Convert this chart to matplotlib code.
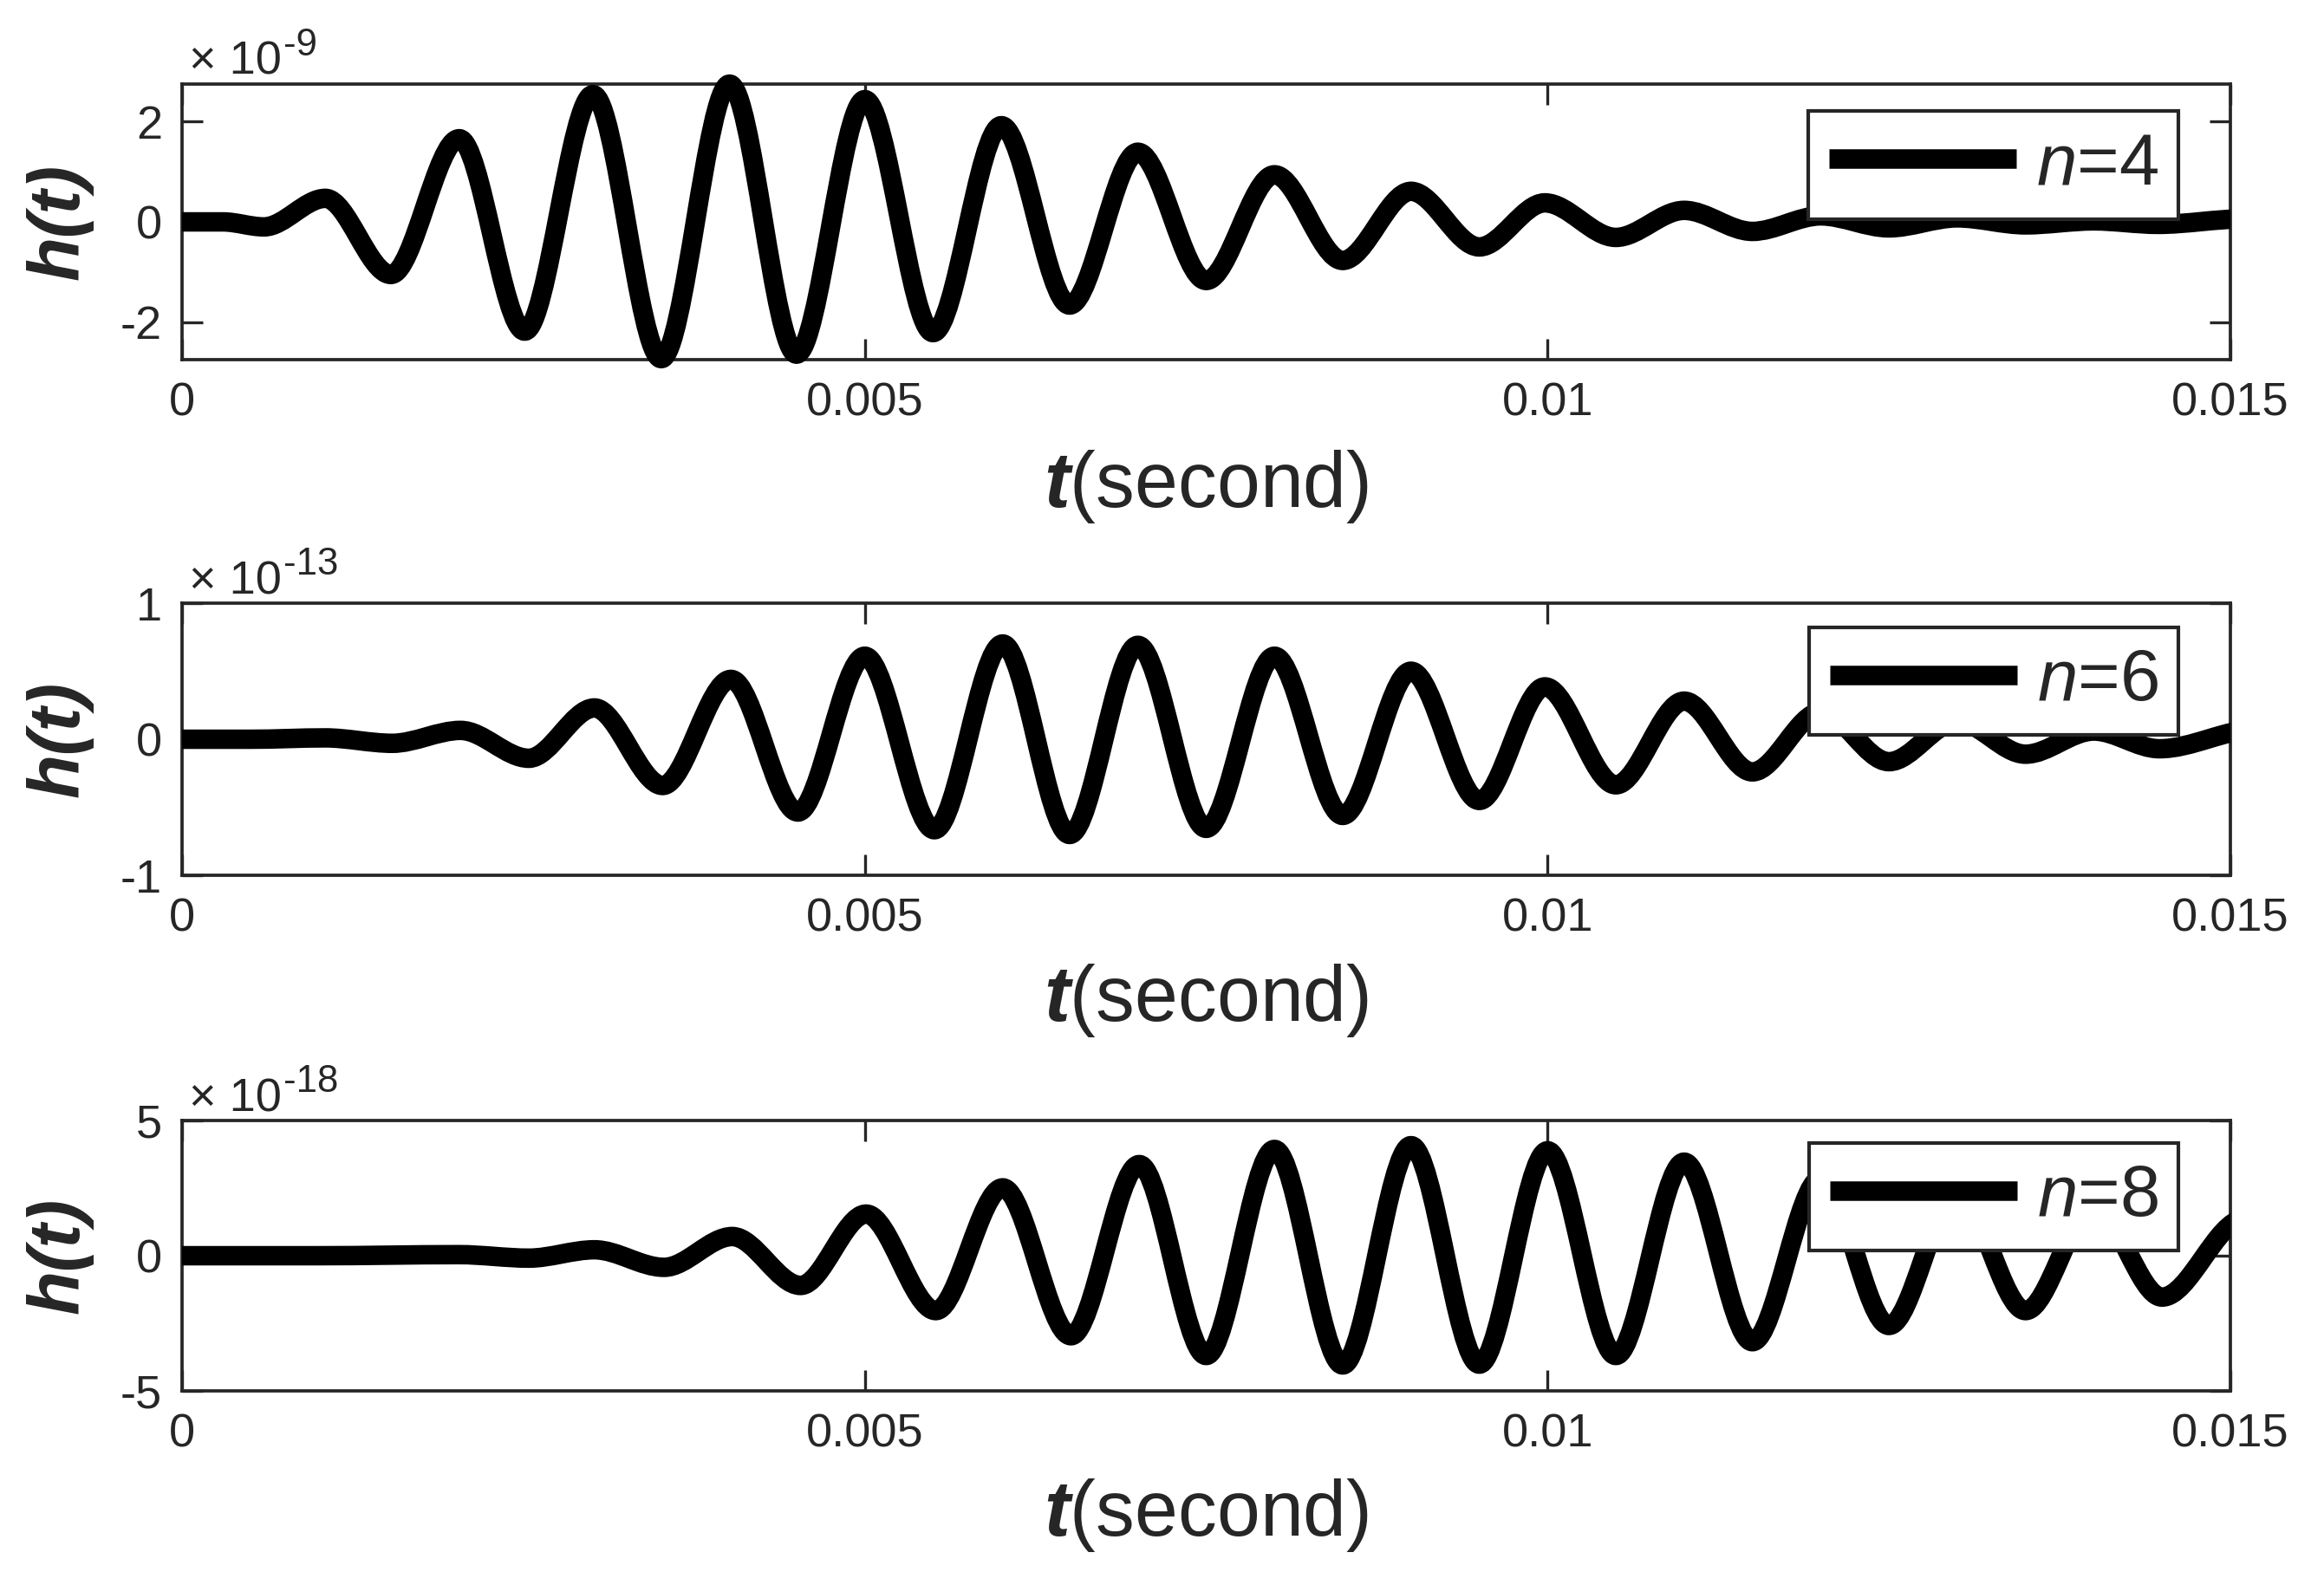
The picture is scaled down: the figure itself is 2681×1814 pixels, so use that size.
import matplotlib
matplotlib.use("Agg")
import matplotlib.pyplot as plt
from matplotlib.path import Path
from matplotlib.patches import PathPatch, Rectangle
from matplotlib.lines import Line2D

# extrema of each trace: time (s) and h(t) in units of the axis multiplier
T4 = [0.0, 0.0003, 0.0006, 0.00105, 0.00153, 0.00203, 0.00251, 0.00301, 0.00351, 0.00401,
      0.0045, 0.005, 0.0055, 0.006, 0.0065, 0.007, 0.0075, 0.008, 0.0085, 0.009, 0.0095,
      0.00998, 0.0105, 0.011, 0.0115, 0.012, 0.0125, 0.013, 0.0135, 0.014, 0.01447, 0.0151]
H4 = [0.0, 0.0, -0.1, 0.47, -1.05, 1.66, -2.18, 2.54, -2.73, 2.75,
      -2.64, 2.44, -2.21, 1.92, -1.66, 1.39, -1.17, 0.94, -0.77, 0.61, -0.50,
      0.38, -0.31, 0.23, -0.19, 0.12, -0.12, 0.08, -0.06, 0.02, -0.05, 0.06]

T6 = [0.0, 0.0005, 0.00105, 0.00154, 0.00204, 0.00254, 0.00302, 0.00352, 0.00402, 0.00451,
      0.005, 0.00551, 0.00601, 0.0065, 0.007, 0.0075, 0.008, 0.0085, 0.009, 0.0095, 0.00998,
      0.0105, 0.011, 0.0115, 0.012, 0.0125, 0.013, 0.0135, 0.014, 0.01448, 0.0152]
H6 = [0.0, 0.0, 0.01, -0.03, 0.065, -0.14, 0.23, -0.34, 0.44, -0.535,
      0.61, -0.665, 0.70, -0.70, 0.69, -0.655, 0.61, -0.56, 0.50, -0.45, 0.385,
      -0.335, 0.28, -0.24, 0.20, -0.165, 0.13, -0.11, 0.06, -0.07, 0.075]

T8 = [0.0, 0.001, 0.00203, 0.00254, 0.00302, 0.00353, 0.00403, 0.00453, 0.00501, 0.00552,
      0.00601, 0.00651, 0.00701, 0.0075, 0.008, 0.0085, 0.009, 0.0095, 0.01, 0.0105,
      0.011, 0.0115, 0.012, 0.0125, 0.013, 0.0135, 0.014, 0.0145, 0.0151]
H8 = [0.0, 0.0, 0.04, -0.09, 0.22, -0.43, 0.71, -1.1, 1.54, -2.03,
      2.51, -2.96, 3.37, -3.69, 3.93, -4.04, 4.07, -4.01, 3.88, -3.69,
      3.46, -3.18, 2.85, -2.58, 2.3, -2.03, 1.8, -1.53, 1.35]

LABELS = ["4", "6", "8"]
EXPONENTS = ["-9", "-13", "-18"]
YLIMS = [(-2.75, 2.75), (-1, 1), (-5, 5)]
YTICKS = [[-2, 0, 2], [-1, 0, 1], [-5, 0, 5]]
XTICKS = [0, 0.005, 0.01, 0.015]
XTICKLABELS = ["0", "0.005", "0.01", "0.015"]

plt.rcParams["font.family"] = ["Liberation Sans", "DejaVu Sans"]
plt.rcParams["axes.unicode_minus"] = False
plt.rcParams["mathtext.fontset"] = "custom"
plt.rcParams["mathtext.rm"] = "Liberation Sans"
plt.rcParams["mathtext.it"] = "Liberation Sans:italic"
plt.rcParams["mathtext.bf"] = "Liberation Sans:bold"
plt.rcParams["mathtext.bfit"] = "Liberation Sans:bold:italic"

DARK = "#262626"
LW = 5.4


def wave_path(t, h):
    # smooth curve through the extrema, horizontal tangent at each one
    verts = [(t[0], h[0])]
    codes = [Path.MOVETO]
    for i in range(1, len(t)):
        dt = t[i] - t[i - 1]
        verts += [(t[i - 1] + dt / 3, h[i - 1]), (t[i] - dt / 3, h[i]), (t[i], h[i])]
        codes += [Path.CURVE4] * 3
    return Path(verts, codes)


fig = plt.figure(figsize=(2681 / 300, 1814 / 300), dpi=300)

rects = [
    [0.0783, 0.7712, 0.8814, 0.1753],
    [0.0783, 0.4432, 0.8814, 0.1731],
    [0.0783, 0.1152, 0.8814, 0.1720],
]
legend_tops = [0.903, 0.912, 0.918]

for k, (T, H) in enumerate([(T4, H4), (T6, H6), (T8, H8)]):
    ax = fig.add_axes(rects[k])
    ax.set_xlim(0, 0.015)
    ax.set_ylim(*YLIMS[k])

    patch = PathPatch(wave_path(T, H), facecolor="none", edgecolor="black",
                      linewidth=LW, capstyle="butt", joinstyle="round", zorder=3)
    ax.add_patch(patch)
    clip = Rectangle((0, -0.3), 1, 1.6, transform=ax.transAxes)
    patch.set_clip_path(clip)

    ax.set_xticks(XTICKS)
    ax.set_xticklabels(XTICKLABELS)
    ax.set_yticks(YTICKS[k])
    ax.set_yticklabels([str(v) for v in YTICKS[k]])
    ax.tick_params(direction="in", top=True, right=True, length=5.8, width=0.8,
                   colors=DARK, labelsize=13)
    ax.tick_params(axis="x", pad=6.2)
    ax.tick_params(axis="y", pad=5.5)
    for s in ax.spines.values():
        s.set_color(DARK)
        s.set_linewidth(0.9)

    ax.set_xlabel(r"$\mathbfit{t}$(second)", fontsize=21.5, color=DARK, va="center")
    ax.xaxis.set_label_coords(0.5, -0.46)
    ax.set_ylabel("h(t)", fontsize=20, fontweight="bold", fontstyle="italic",
                  color=DARK, va="center", ha="center")
    ax.yaxis.set_label_coords(-0.060, 0.5)

    # multiplier above the axis
    base = ax.text(0.0034, 1.035, "\u00d7 10", transform=ax.transAxes, fontsize=13,
                   color=DARK, ha="left", va="baseline")
    ax.annotate(EXPONENTS[k], xy=(1, 1), xycoords=base, xytext=(0.5, 3.6),
                textcoords="offset points", fontsize=10.5, color=DARK,
                ha="left", va="top")

    handle = Line2D([], [], color="black", linewidth=LW, solid_capstyle="butt")
    leg = ax.legend([handle], [r"$\mathit{n}$=" + LABELS[k]], loc="upper right",
                    bbox_to_anchor=(0.9746, legend_tops[k]), borderaxespad=0,
                    fontsize=20, handlelength=2.6, handletextpad=0.27,
                    borderpad=0.28, fancybox=False, framealpha=1, edgecolor=DARK)
    leg.get_frame().set_linewidth(1.0)
    for txt in leg.get_texts():
        txt.set_color(DARK)

fig.savefig("out.png", dpi=300)
